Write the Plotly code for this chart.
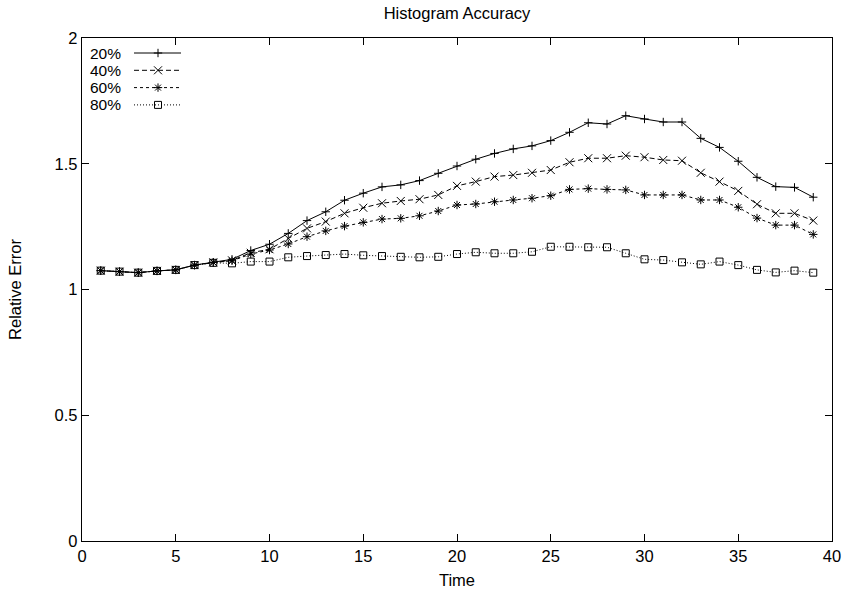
import plotly.graph_objects as go

time = list(range(1, 40))

err_20 = [1.075, 1.071, 1.067, 1.074, 1.078, 1.097, 1.108, 1.120, 1.155, 1.180,
          1.223, 1.274, 1.309, 1.355, 1.383, 1.408, 1.416, 1.433, 1.462, 1.491,
          1.518, 1.541, 1.559, 1.571, 1.592, 1.625, 1.663, 1.658, 1.691, 1.678,
          1.666, 1.666, 1.601, 1.565, 1.510, 1.446, 1.409, 1.406, 1.367]
err_40 = [1.075, 1.071, 1.067, 1.074, 1.078, 1.097, 1.108, 1.116, 1.146, 1.160,
          1.203, 1.243, 1.270, 1.303, 1.325, 1.343, 1.352, 1.359, 1.376, 1.412,
          1.429, 1.449, 1.455, 1.464, 1.475, 1.506, 1.522, 1.522, 1.532, 1.526,
          1.515, 1.512, 1.464, 1.429, 1.392, 1.339, 1.303, 1.303, 1.274]
err_60 = [1.075, 1.071, 1.067, 1.074, 1.078, 1.097, 1.108, 1.114, 1.141, 1.157,
          1.181, 1.210, 1.233, 1.252, 1.267, 1.280, 1.283, 1.293, 1.312, 1.336,
          1.340, 1.349, 1.356, 1.363, 1.373, 1.398, 1.401, 1.398, 1.396, 1.376,
          1.376, 1.376, 1.356, 1.356, 1.327, 1.284, 1.256, 1.256, 1.219]
err_80 = [1.075, 1.071, 1.067, 1.074, 1.078, 1.097, 1.106, 1.104, 1.111, 1.111,
          1.128, 1.133, 1.137, 1.141, 1.136, 1.133, 1.130, 1.128, 1.130, 1.141,
          1.148, 1.144, 1.144, 1.150, 1.170, 1.170, 1.168, 1.168, 1.144, 1.120,
          1.117, 1.108, 1.100, 1.111, 1.097, 1.078, 1.068, 1.075, 1.067]

series_names = ["20%", "40%", "60%", "80%"]
series_values = [err_20, err_40, err_60, err_80]
series_dash = ["solid", "5px,3px", "3px,3px", "1px,2px"]
series_symbol = ["cross-thin-open", "x-thin-open", "asterisk-open", "square-open"]
series_msize = [6, 8, 7, 7]

x_ticks = [0, 5, 10, 15, 20, 25, 30, 35, 40]
y_ticks = [0, 0.5, 1, 1.5, 2]
y_tick_text = ["0", "0.5", "1", "1.5", "2"]

FONT = "Liberation Sans, Arial, Helvetica, sans-serif"
FS = 16.5
INK = "#000000"

fig = go.Figure()

for name, vals, dash, sym, ms in zip(series_names, series_values, series_dash,
                                     series_symbol, series_msize):
    fig.add_trace(go.Scatter(
        x=time, y=vals, mode="lines+markers", name=name, showlegend=False,
        line=dict(color=INK, width=1, dash=dash),
        marker=dict(symbol=sym, size=ms, color=INK, line=dict(color=INK, width=1)),
    ))

# gnuplot-style key: label text followed by the line sample (overlay axes in px of plot area)
PW, PH = 750, 503
key_rows = [15, 32.3, 49.6, 66.9]
key_line = [52, 99]
for i, (name, dash, sym, ms) in enumerate(zip(series_names, series_dash,
                                               series_symbol, series_msize)):
    yy = key_rows[i]
    fig.add_trace(go.Scatter(
        x=key_line, y=[yy, yy], mode="lines", xaxis="x2", yaxis="y2",
        showlegend=False, hoverinfo="skip",
        line=dict(color=INK, width=1, dash=dash),
    ))
    fig.add_trace(go.Scatter(
        x=[(key_line[0] + key_line[1]) / 2 + 0.5], y=[yy], mode="markers",
        xaxis="x2", yaxis="y2", showlegend=False, hoverinfo="skip",
        marker=dict(symbol=sym, size=ms, color=INK, line=dict(color=INK, width=1)),
    ))
    fig.add_annotation(
        x=7, y=yy, xref="x2", yref="y2", text=name, showarrow=False,
        xanchor="left", yanchor="middle", borderpad=0,
        font=dict(family=FONT, size=15.5, color=INK),
    )

fig.update_layout(
    width=846, height=594,
    margin=dict(l=82, r=14, t=38, b=53, autoexpand=False),
    paper_bgcolor="white", plot_bgcolor="white",
    font=dict(family=FONT, size=FS, color=INK),
    title=dict(text="Histogram Accuracy", x=0.5, xref="paper",
               y=1 - 13 / 594, yref="container", yanchor="middle",
               font=dict(family=FONT, size=FS, color=INK)),
    xaxis=dict(
        range=[0, 40], tickvals=x_ticks, ticktext=[str(v) for v in x_ticks],
        ticks="inside", ticklen=7, tickwidth=1, tickcolor=INK,
        showline=True, linecolor=INK, linewidth=1.3, mirror="ticks",
        showgrid=False, zeroline=False, automargin=False,
        title=dict(text="Time", standoff=10, font=dict(family=FONT, size=FS)),
        tickfont=dict(family=FONT, size=FS),
    ),
    yaxis=dict(
        range=[0, 2], tickvals=y_ticks, ticktext=y_tick_text,
        ticks="inside", ticklen=7, tickwidth=1, tickcolor=INK,
        showline=True, linecolor=INK, linewidth=1.3, mirror="ticks",
        showgrid=False, zeroline=False, automargin=False,
        title=dict(text="Relative Error", standoff=28, font=dict(family=FONT, size=FS)),
        tickfont=dict(family=FONT, size=FS),
    ),
    xaxis2=dict(range=[0, PW], overlaying="x", visible=False, fixedrange=True),
    yaxis2=dict(range=[PH, 0], overlaying="y", visible=False, fixedrange=True),
)

fig.write_html(
    "out.html",
    config={"displayModeBar": False},
    post_script="document.body.style.margin='0';document.body.style.padding='0';",
)
